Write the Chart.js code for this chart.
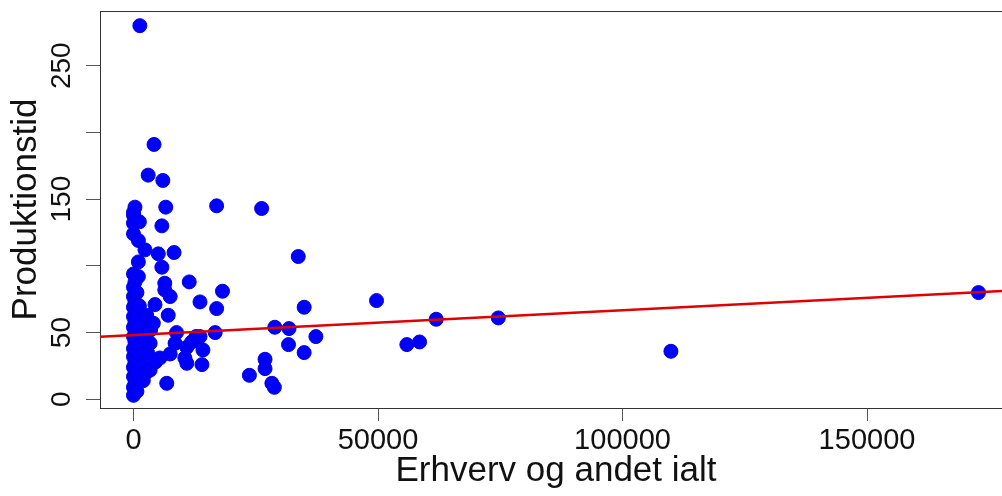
<!DOCTYPE html>
<html>
<head>
<meta charset="utf-8">
<script src="https://cdn.jsdelivr.net/npm/chart.js@4/dist/chart.umd.min.js"></script>
<style>
  html, body { margin: 0; padding: 0; background: #fff; overflow: hidden; }
  #wrap { width: 1020px; height: 496px; }
</style>
</head>
<body>
<div id="wrap"><canvas id="plot" width="1020" height="496"></canvas></div>
<script>
// Erhverv og andet ialt (x) vs Produktionstid (y)
const xVals = [
  0, 0, 0, 0, 0, 0, 0, 0, 0, 0, 0, 0, 0, 0, 0, 0, 0,
  300, 300, 300, 300, 300, 300, 300,
  700, 700, 700, 700, 700, 700,
  1000, 1000, 1000, 1200, 1300,
  1200, 1200, 1200, 1200,
  1800, 1800, 1800, 2000, 2000,
  2350, 2700, 2500, 2600,
  3000, 3000, 3400, 3400, 3500,
  4050, 4200, 4400, 4500,
  5070, 5400, 5800, 5800, 6000, 6400, 6400, 6600, 6800, 7100, 7500, 7500,
  8300, 8500, 8800, 10500, 10900, 10900, 11400, 11900, 12800, 13600, 13600, 14000, 14200, 16700, 17000, 17000, 18200,
  23700, 26200, 26900, 26900, 28300, 28800, 28900, 31700, 31800, 33700, 34900, 34900, 37300,
  49700, 55900, 58500, 61900, 74600, 109900, 172800
];
const yVals = [
  3, 9, 17, 24, 32, 38, 47, 54, 62, 69, 77, 84, 94, 124, 132, 138, 140,
  144, 12, 28, 43, 58, 73, 88,
  6, 20, 35, 50, 65, 80,
  103, 119, 92, 133, 280,
  15, 40, 55, 70,
  25, 48, 60, 14, 35,
  112, 63, 45, 20,
  168, 34, 42, 22, 52,
  57, 191, 71, 28,
  109, 31, 99, 130, 164, 87, 82, 144, 12, 63, 77, 34,
  110, 42, 50, 31, 27, 39, 88, 43, 47, 73, 47, 26, 37, 50, 145, 68, 81,
  18, 143, 30, 23, 12, 9, 54, 41, 53, 107, 69, 35, 47,
  74, 41, 43, 60, 61, 36, 80
];

// fitted line, end points at the plot edges
const fitX = [-6850, 179650];
const fitY = [46.9, 81.6];

const xTicks = [0, 50000, 100000, 150000];
const yTicks = [0, 50, 100, 150, 200, 250];
const yLabelled = [0, 50, 150, 250];

const xRange = [-6850, 179650];
const yRange = [-6.5, 291];

const points = xVals.map((x, i) => ({ x: x, y: yVals[i] }));
const fitLine = fitX.map((x, i) => ({ x: x, y: fitY[i] }));

const FONT = "'Liberation Sans', Arial, sans-serif";

const boxPlugin = {
  id: "box",
  beforeDatasetsDraw(chart) {
    const a = chart.chartArea;
    const ctx = chart.ctx;
    ctx.save();
    ctx.strokeStyle = "#333";
    ctx.lineWidth = 1;
    ctx.strokeRect(Math.round(a.left) + 0.5, Math.round(a.top) + 0.5,
      Math.round(a.right - a.left), Math.round(a.bottom - a.top));
    ctx.restore();
  }
};

new Chart(document.getElementById("plot"), {
  type: "scatter",
  data: {
    datasets: [
      {
        type: "line",
        data: fitLine,
        borderColor: "#e00000",
        borderWidth: 2.5,
        pointRadius: 0,
        fill: false,
        order: 0
      },
      {
        data: points,
        backgroundColor: "#0000ff",
        borderColor: "#0000e0",
        borderWidth: 1,
        pointRadius: 7,
        order: 1
      }
    ]
  },
  options: {
    responsive: false,
    animation: false,
    layout: { padding: { top: 11, left: 0, right: 0, bottom: 0 } },
    plugins: { legend: { display: false }, tooltip: { enabled: false } },
    scales: {
      x: {
        type: "linear",
        min: xRange[0],
        max: xRange[1],
        afterBuildTicks: (s) => { s.ticks = xTicks.map(v => ({ value: v })); },
        afterFit: (s) => { s.height = 88; s.paddingLeft = 0; s.paddingRight = 0; },
        border: { display: false },
        grid: { drawOnChartArea: false, drawTicks: true, tickLength: 13, tickColor: "#555" },
        ticks: {
          color: "#111",
          font: { family: FONT, size: 29 },
          padding: 3,
          maxRotation: 0,
          autoSkip: false,
          callback: (v) => String(v)
        },
        title: {
          display: true,
          text: "Erhverv og andet ialt",
          color: "#111",
          font: { family: FONT, size: 35 },
          padding: { top: 0, bottom: 4 }
        }
      },
      y: {
        type: "linear",
        min: yRange[0],
        max: yRange[1],
        afterBuildTicks: (s) => { s.ticks = yTicks.map(v => ({ value: v })); },
        afterFit: (s) => { s.width = 100; s.paddingTop = 0; s.paddingBottom = 0; },
        border: { display: false },
        grid: { drawOnChartArea: false, drawTicks: true, tickLength: 14, tickColor: "#555" },
        ticks: {
          color: "#111",
          font: { family: FONT, size: 28 },
          padding: 0,
          minRotation: 90,
          maxRotation: 90,
          crossAlign: "center",
          autoSkip: false,
          callback: (v) => yLabelled.includes(v) ? String(v) : ""
        },
        title: {
          display: true,
          text: "Produktionstid",
          color: "#111",
          font: { family: FONT, size: 35 },
          padding: { top: 5, bottom: 0 }
        }
      }
    }
  },
  plugins: [boxPlugin]
});
</script>
</body>
</html>
